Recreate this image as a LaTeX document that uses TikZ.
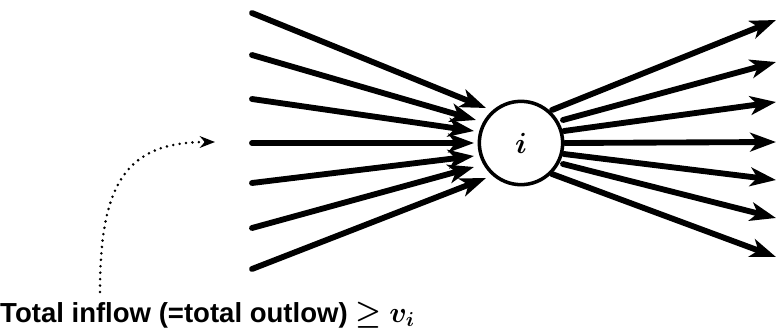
\documentclass[tikz,border=0pt]{standalone}
\usepackage{bm}
\usepackage{fontspec}
\setmainfont{Liberation Sans}
\usetikzlibrary{arrows.meta}

\begin{document}
\begin{tikzpicture}[x=0.03cm,y=-0.03cm,>={Stealth[length=22pt,width=16pt,inset=6pt]}]
    % page frame (pixel units, y downwards)
    \useasboundingbox (0,0) rectangle (776,331);
    \tikzset{flow/.style={->,line width=5pt,line cap=round}}

    % vertex
    \node[draw,circle,line width=3pt,minimum size=2.5cm,inner sep=0pt,font=\fontsize{24}{26}\selectfont] (i) at (521,143)
        {$\bm{i}$};

    % inflow arcs
    \foreach \n/\ys/\xt/\yt in {1/13/486/108, 2/55/476/120, 3/99/474/131, 4/143/474/143,
                                5/183/474/156, 6/228/474/167, 7/269/486/178} {
        \coordinate (in\n) at (252,\ys);
        \coordinate (inh\n) at (\xt,\yt);
        \draw[flow] (in\n) -- (inh\n);
    }

    % outflow arcs
    \foreach \n/\xs/\ys/\yt in {1/552/110/20, 2/563/120/62, 3/564/131/102, 4/565/143/142,
                                5/564/154/180, 6/563/164/218, 7/552/174/257} {
        \coordinate (out\n) at (\xs,\ys);
        \coordinate (outh\n) at (776,\yt);
        \draw[flow] (out\n) -- (outh\n);
    }

    % label with dotted pointer
    \node[anchor=base west,inner sep=0pt,font=\fontsize{23.5}{26}\selectfont\bfseries] (lbl) at (0,322)
        {Total inflow (=total outlow) $\bm{\geq v_i}$};
    \coordinate (dot0) at (100,292);
    \coordinate (dot1) at (215,142);
    \draw[->,line width=2.4pt,line cap=round,dash pattern=on 0pt off 5.5pt,
          >={Stealth[length=13pt,width=10pt]}]
        (dot0) .. controls (100,185) and (125,142) .. (dot1);
\end{tikzpicture}
\end{document}
